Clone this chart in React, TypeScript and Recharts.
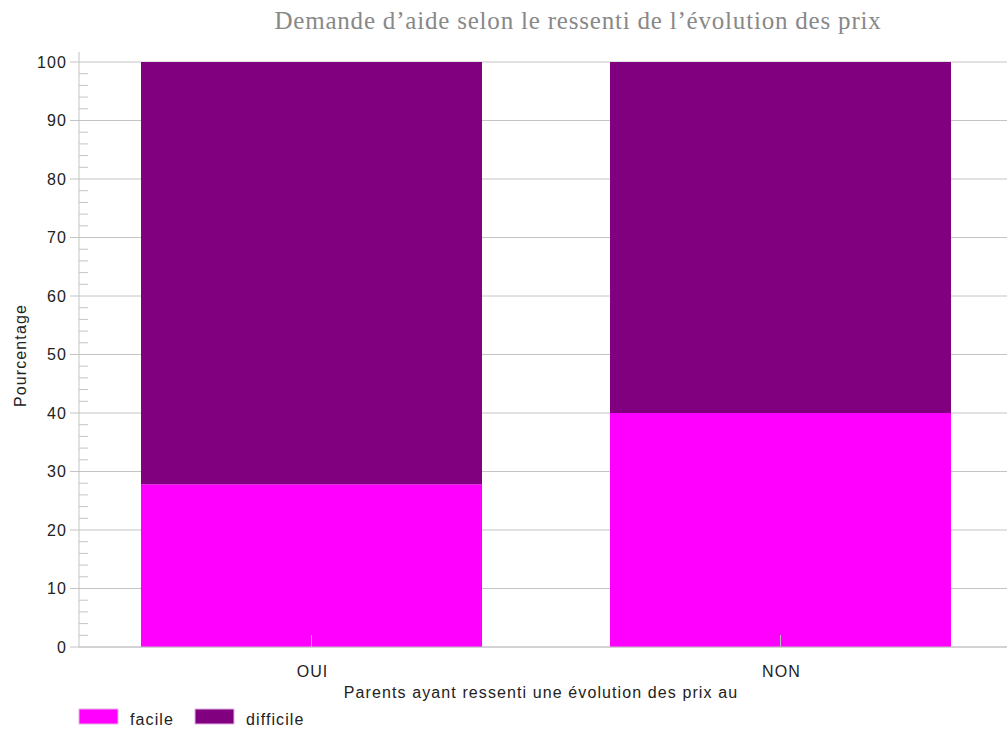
import React from 'react';
import { BarChart, Bar, XAxis, YAxis, CartesianGrid, Label } from 'recharts';

// Categories (answer to the question on the x axis)
const categories = ['OUI', 'NON'];

// Stacked shares, in percent
const facileValues = [27.8, 40];
const difficileValues = [72.2, 60];

const seriesKeys = ['facile', 'difficile'];
const seriesColors = ['#ff00ff', '#800080'];

// Y axis: labelled ticks every 10, small ticks every 2
const majorTicks = [0, 10, 20, 30, 40, 50, 60, 70, 80, 90, 100];
const allTicks = [
  0, 2, 4, 6, 8, 10, 12, 14, 16, 18, 20, 22, 24, 26, 28, 30, 32, 34, 36, 38, 40,
  42, 44, 46, 48, 50, 52, 54, 56, 58, 60, 62, 64, 66, 68, 70, 72, 74, 76, 78, 80,
  82, 84, 86, 88, 90, 92, 94, 96, 98, 100,
];

const title = 'Demande d\u2019aide selon le ressenti de l\u2019\u00e9volution des prix';
const xTitle = 'Parents ayant ressenti une \u00e9volution des prix au';
const yTitle = 'Pourcentage';

const data = categories.map((c, i) => ({
  name: c,
  facile: facileValues[i],
  difficile: difficileValues[i],
}));

const AXIS = '#c4c4c4';
const TEXT = '#222';
const FONT = '"Liberation Sans", Arial, sans-serif';
const SPACING = 1.1;

const YTick = (props: any) => {
  const { x, y, payload } = props;
  const v = payload.value;
  if (majorTicks.includes(v)) {
    return (
      <g>
        <line x1={x - 9} y1={y} x2={x} y2={y} stroke={AXIS} strokeWidth={1} />
        <text
          x={x - 12}
          y={y}
          dy={5.5}
          textAnchor="end"
          fill={TEXT}
          fontSize={16}
          fontFamily={FONT}
          letterSpacing={SPACING}
        >
          {v}
        </text>
      </g>
    );
  }
  return <line x1={x} y1={y} x2={x + 9} y2={y} stroke={AXIS} strokeWidth={1} />;
};

const XTick = (props: any) => {
  const { x, y, payload } = props;
  return (
    <g>
      <line x1={x} y1={y - 12} x2={x} y2={y} stroke="#b8b8b8" strokeWidth={1} />
      <text
        x={x + 1}
        y={y + 30}
        textAnchor="middle"
        fill={TEXT}
        fontSize={16}
        fontFamily={FONT}
        letterSpacing={SPACING}
      >
        {payload.value}
      </text>
    </g>
  );
};

const renderYTitle = (props: any) => {
  const vb = props.viewBox || {};
  const cx = 20;
  const cy = (vb.y || 0) + (vb.height || 0) / 2 + 6;
  return (
    <text
      x={cx}
      y={cy}
      transform={`rotate(-90 ${cx} ${cy})`}
      textAnchor="middle"
      dominantBaseline="central"
      fill={TEXT}
      fontSize={16}
      fontFamily={FONT}
      letterSpacing={SPACING}
    >
      {yTitle}
    </text>
  );
};

const renderXTitle = (props: any) => {
  const vb = props.viewBox || {};
  const cx = (vb.x || 0) + (vb.width || 0) / 2 - 6;
  return (
    <text
      x={cx}
      y={(vb.y || 0) + 51}
      textAnchor="middle"
      fill={TEXT}
      fontSize={16}
      fontFamily={FONT}
      letterSpacing={SPACING}
    >
      {xTitle}
    </text>
  );
};

export default function App() {
  return (
    <div
      style={{
        position: 'absolute',
        left: 0,
        top: 0,
        width: 1007,
        height: 731,
        overflow: 'hidden',
        background: '#fff',
      }}
    >
      <BarChart
        width={1021}
        height={731}
        data={data}
        margin={{ top: 52, right: 6, bottom: 0, left: 0 }}
        barSize={341}
      >
        <CartesianGrid vertical={false} horizontalValues={majorTicks} stroke={AXIS} />
        <XAxis
          dataKey="name"
          height={84}
          tickSize={0}
          tickMargin={0}
          tick={<XTick />}
          axisLine={{ stroke: AXIS }}
          tickLine={false}
          interval={0}
          padding={{ left: -2, right: 0 }}
        >
          <Label content={renderXTitle} />
        </XAxis>
        <XAxis
          xAxisId="top"
          orientation="top"
          dataKey="name"
          height={0}
          tick={false}
          tickLine={false}
          axisLine={{ stroke: AXIS }}
        />
        <YAxis
          width={79}
          domain={[0, 100]}
          ticks={allTicks}
          interval={0}
          tickSize={0}
          tickMargin={0}
          tick={<YTick />}
          tickLine={false}
          axisLine={{ stroke: AXIS }}
          padding={{ top: 10, bottom: 0 }}
        >
          <Label content={renderYTitle} />
        </YAxis>
        {seriesKeys.map((k, i) => (
          <Bar
            key={k}
            dataKey={k}
            stackId="a"
            fill={seriesColors[i]}
            isAnimationActive={false}
          />
        ))}
      </BarChart>
      <svg
        width={1007}
        height={731}
        style={{ position: 'absolute', left: 0, top: 0, pointerEvents: 'none' }}
      >
        <text
          x={578}
          y={29}
          textAnchor="middle"
          fill="#888"
          fontSize={25}
          letterSpacing={0.8}
          fontFamily='"Liberation Serif", "Times New Roman", serif'
        >
          {title}
        </text>
        {seriesKeys.map((k, i) => {
          const x0 = 79 + i * 116;
          return (
            <g key={k}>
              <rect x={x0} y={709} width={39} height={15} fill={seriesColors[i]} stroke="#e6b3e6" strokeWidth={1} />
              <text
                x={x0 + 51}
                y={725}
                fill={TEXT}
                fontSize={16}
                fontFamily={FONT}
                letterSpacing={SPACING}
              >
                {k}
              </text>
            </g>
          );
        })}
      </svg>
    </div>
  );
}
